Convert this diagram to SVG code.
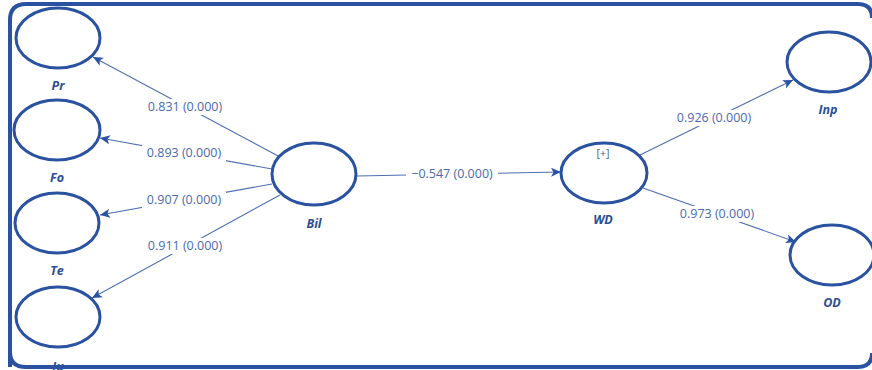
<svg xmlns="http://www.w3.org/2000/svg" width="872" height="370" viewBox="0 0 872 370">
  <style>
    .node { fill: #ffffff; stroke: #2a52a0; stroke-width: 3; }
    .name { font-family: "Open Sans", "Noto Sans", sans-serif; font-size: 12.5px; font-weight: bold; font-style: italic; fill: #2a4f96; text-anchor: middle; }
    .edge { stroke: #4e6fb2; stroke-width: 1.1; fill: none; marker-end: url(#arrow); }
    .coef { font-family: "Open Sans", "Noto Sans", sans-serif; font-size: 12.5px; fill: #4a6aae; text-anchor: middle; }
    .gap { fill: #ffffff; }
    .frame { fill: none; stroke: #2a52a0; stroke-width: 4; }
  </style>
  <defs>
    <marker id="arrow" viewBox="0 0 10 10" refX="10" refY="5" markerWidth="10" markerHeight="10" markerUnits="userSpaceOnUse" orient="auto">
      <path d="M0,0.5 L10,5 L0,9.5 L2.5,5 Z" fill="#2a52a0"/>
    </marker>
  </defs>

  <rect width="872" height="370" fill="#ffffff"/>

  <!-- connectors -->
  <g id="connectors">
    <line class="edge" x1="280" y1="157" x2="93" y2="57"/>
    <line class="edge" x1="272" y1="169" x2="100" y2="138"/>
    <line class="edge" x1="272" y1="184" x2="100" y2="215"/>
    <line class="edge" x1="280" y1="195" x2="92" y2="298"/>
    <line class="edge" x1="357" y1="176" x2="561" y2="172"/>
    <line class="edge" x1="640" y1="155" x2="793" y2="80"/>
    <line class="edge" x1="643" y1="188" x2="796" y2="242"/>

    <rect class="gap" x="143" y="99" width="84" height="16"/>
    <text class="coef" x="185" y="111">0.831 (0.000)</text>
    <rect class="gap" x="142" y="145" width="84" height="16"/>
    <text class="coef" x="184" y="157">0.893 (0.000)</text>
    <rect class="gap" x="142" y="192" width="84" height="16"/>
    <text class="coef" x="184" y="204">0.907 (0.000)</text>
    <rect class="gap" x="143" y="238" width="84" height="16"/>
    <text class="coef" x="185" y="250">0.911 (0.000)</text>
    <rect class="gap" x="406" y="166" width="92" height="16"/>
    <text class="coef" x="452" y="178">−0.547 (0.000)</text>
    <rect class="gap" x="672" y="110" width="84" height="16"/>
    <text class="coef" x="714" y="122">0.926 (0.000)</text>
    <rect class="gap" x="675" y="206" width="84" height="16"/>
    <text class="coef" x="717" y="218">0.973 (0.000)</text>
  </g>

  <!-- nodes -->
  <g id="Pr">
    <ellipse class="node" cx="58" cy="38" rx="42" ry="30"/>
    <text class="name" x="58" y="90">Pr</text>
  </g>
  <g id="Fo">
    <ellipse class="node" cx="57" cy="130" rx="43" ry="30"/>
    <text class="name" x="57" y="182">Fo</text>
  </g>
  <g id="Te">
    <ellipse class="node" cx="57" cy="223" rx="42" ry="30"/>
    <text class="name" x="57" y="275">Te</text>
  </g>
  <g id="Iu">
    <ellipse class="node" cx="58" cy="317" rx="42" ry="30"/>
    <text class="name" x="58" y="371">Iu</text>
  </g>
  <g id="Bil">
    <ellipse class="node" cx="314" cy="174" rx="42" ry="31"/>
    <text class="name" x="314" y="228">Bil</text>
  </g>
  <g id="WD">
    <ellipse class="node" cx="604" cy="173" rx="43" ry="30"/>
    <text x="603" y="157" font-family="'Open Sans', 'Noto Sans', sans-serif" font-size="10.5" fill="#4a5f8e" text-anchor="middle">[+]</text>
    <text class="name" x="603" y="224">WD</text>
  </g>
  <g id="Inp">
    <ellipse class="node" cx="829" cy="62" rx="42" ry="30"/>
    <text class="name" x="828" y="114">Inp</text>
  </g>
  <g id="OD">
    <ellipse class="node" cx="832" cy="255" rx="42" ry="30"/>
    <text class="name" x="832" y="307">OD</text>
  </g>

  <!-- outer frame -->
  <path class="frame" d="M10,367 L10,20 Q10,4 26,4 L858,4 Q872,4 872,18 M10,352 Q10,367 26,367 L858,367 Q872,367 872,353"/>
</svg>
